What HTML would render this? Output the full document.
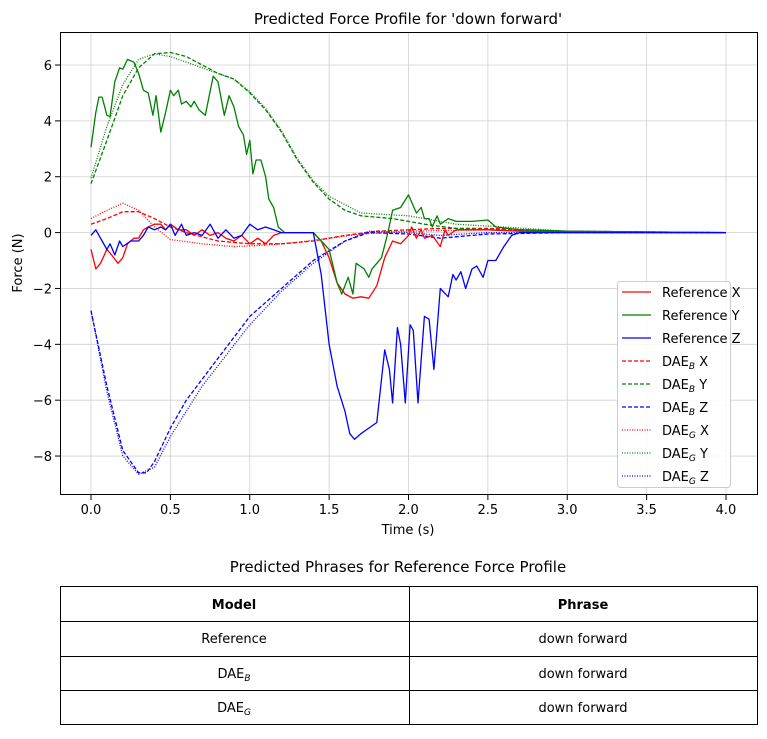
<!DOCTYPE html>
<html><head><meta charset="utf-8"><style>
body{margin:0;background:#fff;font-family:"DejaVu Sans","Liberation Sans",sans-serif;}
svg text{font-family:"DejaVu Sans","Liberation Sans",sans-serif;}
</style></head><body>
<svg id="chart" width="767" height="735" xmlns="http://www.w3.org/2000/svg">
<rect width="767" height="735" fill="#fff"/>
<g id="grid"></g>
<g id="series"></g>
<rect x="60.5" y="32.5" width="697" height="462" fill="none" stroke="#000" stroke-width="1"/>
<g id="ticks"></g>
<text x="408" y="24" font-size="15" text-anchor="middle">Predicted Force Profile for 'down forward'</text>
<text x="408" y="534" font-size="13" text-anchor="middle">Time (s)</text>
<text x="22" y="263" font-size="13" text-anchor="middle" transform="rotate(-90 22 263)">Force (N)</text>
<g id="legend"></g>
<text x="398" y="572" font-size="15" text-anchor="middle">Predicted Phrases for Reference Force Profile</text>
<g font-size="13" text-anchor="middle">
<rect x="60.5" y="586.5" width="697" height="138" fill="none" stroke="#000"/>
<line x1="60" y1="621.5" x2="757" y2="621.5" stroke="#000"/>
<line x1="60" y1="656.5" x2="757" y2="656.5" stroke="#000"/>
<line x1="60" y1="690.5" x2="757" y2="690.5" stroke="#000"/>
<line x1="409.5" y1="586" x2="409.5" y2="725" stroke="#000"/>
<text x="234" y="609" font-weight="bold">Model</text>
<text x="583" y="609" font-weight="bold">Phrase</text>
<text x="234" y="643">Reference</text>
<text x="583" y="643">down forward</text>
<text x="234" y="678">DAE<tspan font-style="italic" font-size="9" dy="3">B</tspan></text>
<text x="583" y="678">down forward</text>
<text x="234" y="712">DAE<tspan font-style="italic" font-size="9" dy="3">G</tspan></text>
<text x="583" y="712">down forward</text>
</g>
</svg>
<script>
const xTicks=[0,0.5,1,1.5,2,2.5,3,3.5,4];
const xTickLabels=["0.0","0.5","1.0","1.5","2.0","2.5","3.0","3.5","4.0"];
const yTicks=[-8,-6,-4,-2,0,2,4,6];
const yTickLabels=["−8","−6","−4","−2","0","2","4","6"];
const refXt=[0,0.03,0.06,0.1,0.13,0.17,0.2,0.23,0.27,0.3,0.33,0.36,0.4,0.44,0.47,0.5,0.55,0.6,0.65,0.7,0.75,0.8,0.85,0.9,0.95,1.0,1.05,1.1,1.15,1.2,1.4,1.45,1.5,1.55,1.6,1.65,1.7,1.75,1.8,1.85,1.9,1.95,2.0,2.02,2.05,2.08,2.1,2.15,2.2,2.23,2.25,2.3,2.5,2.7,4];
const refXv=[-0.6,-1.3,-1.1,-0.6,-0.8,-1.1,-0.9,-0.4,-0.2,-0.2,0.1,0.2,0.3,0.3,0.1,0.3,0.1,0.1,-0.1,0.1,-0.1,0,-0.2,-0.3,-0.1,-0.4,-0.2,-0.4,-0.1,0,0,-0.3,-0.9,-1.8,-2.2,-2.35,-2.3,-2.35,-1.9,-0.9,-0.3,-0.4,-0.1,0.2,-0.2,0.1,-0.2,-0.1,-0.5,0.1,-0.1,0.1,0.1,0.05,0];
const refYt=[0,0.03,0.05,0.07,0.1,0.12,0.15,0.18,0.2,0.23,0.27,0.3,0.33,0.36,0.39,0.41,0.44,0.47,0.5,0.52,0.55,0.57,0.6,0.63,0.65,0.68,0.72,0.77,0.8,0.84,0.87,0.9,0.93,0.96,0.98,1.0,1.02,1.04,1.07,1.1,1.12,1.15,1.18,1.22,1.4,1.45,1.5,1.55,1.58,1.62,1.65,1.67,1.72,1.75,1.77,1.8,1.83,1.87,1.9,1.95,2.0,2.05,2.08,2.1,2.13,2.15,2.18,2.2,2.25,2.3,2.4,2.5,2.55,2.7,3.0,4.0];
const refYv=[3.05,4.3,4.85,4.85,4.2,4.15,5.4,5.9,5.85,6.2,6.1,5.7,5.1,5.0,4.2,4.9,3.6,4.3,5.1,4.9,5.1,4.6,4.7,4.5,4.7,4.4,4.2,5.6,5.4,4.2,4.9,4.5,3.8,3.5,2.8,3.3,2.1,2.6,2.6,2.0,1.2,0.9,0.2,0,0,-0.3,-0.6,-1.8,-2.2,-1.6,-2.2,-1.1,-1.3,-1.6,-1.3,-1.1,-0.9,0,0.8,0.9,1.35,0.7,0.9,0.5,0.5,0.2,0.6,0.3,0.5,0.4,0.4,0.45,0.2,0.1,0.05,0];
const refZt=[0,0.03,0.07,0.1,0.12,0.15,0.18,0.2,0.25,0.3,0.33,0.36,0.4,0.44,0.47,0.5,0.53,0.57,0.6,0.65,0.7,0.75,0.8,0.85,0.9,0.95,1.0,1.05,1.1,1.15,1.2,1.4,1.45,1.5,1.55,1.6,1.63,1.66,1.7,1.75,1.8,1.85,1.88,1.9,1.93,1.95,1.98,2.01,2.03,2.06,2.1,2.13,2.16,2.2,2.25,2.28,2.3,2.33,2.36,2.4,2.43,2.47,2.5,2.55,2.6,2.65,2.7,4];
const refZv=[-0.1,0.1,-0.3,-0.6,-0.4,-0.8,-0.3,-0.5,-0.3,-0.3,-0.1,0.2,0.1,0.2,0.1,0.3,-0.1,0.3,-0.1,0,-0.1,0.3,-0.2,0.1,-0.2,-0.1,0.3,0.1,0.2,0.1,0,0,-1.5,-4.0,-5.5,-6.4,-7.2,-7.4,-7.2,-7.0,-6.8,-4.2,-4.9,-6.1,-3.4,-4.0,-6.1,-3.3,-3.5,-6.1,-3.0,-3.1,-4.9,-2.0,-2.3,-1.5,-1.7,-1.4,-2.0,-1.3,-1.2,-1.6,-1.0,-1.0,-0.5,-0.1,0,0];
const dbXt=[0,0.1,0.2,0.3,0.4,0.5,0.6,0.8,1.0,1.2,1.4,1.6,1.8,2.0,2.2,2.5,3,4];
const dbXv=[0.3,0.5,0.75,0.75,0.5,0.2,0,-0.3,-0.4,-0.4,-0.3,-0.1,0.05,0.1,0.15,0.15,0.05,0];
const dbYt=[0,0.1,0.2,0.3,0.4,0.5,0.6,0.7,0.8,0.9,1.0,1.1,1.2,1.3,1.4,1.5,1.6,1.7,1.9,2.1,2.3,2.5,3,4];
const dbYv=[1.75,3.3,4.9,5.9,6.4,6.45,6.3,6.0,5.7,5.5,5.0,4.4,3.6,2.6,1.8,1.2,0.8,0.6,0.5,0.3,0.15,0.1,0,0];
const dbZt=[0,0.1,0.2,0.3,0.35,0.4,0.5,0.6,0.8,1.0,1.2,1.4,1.6,1.75,2.0,2.2,2.5,3,4];
const dbZv=[-2.8,-5.5,-7.8,-8.6,-8.6,-8.2,-7.0,-6.0,-4.5,-3.0,-2.0,-1.0,-0.3,0,-0.05,-0.2,-0.05,0,0];
const dgXt=[0,0.1,0.2,0.3,0.4,0.5,0.7,0.9,1.1,1.3,1.5,1.7,2.0,2.5,3,4];
const dgXv=[0.5,0.8,1.05,0.8,0.2,-0.25,-0.4,-0.5,-0.45,-0.35,-0.2,-0.05,0.05,0.1,0.05,0];
const dgYt=[0,0.1,0.2,0.3,0.4,0.5,0.6,0.7,0.8,0.9,1.0,1.1,1.2,1.3,1.4,1.5,1.7,2.0,2.3,2.6,3,4];
const dgYv=[1.95,3.8,5.3,6.2,6.4,6.3,6.1,5.9,5.7,5.5,5.05,4.45,3.65,2.65,1.85,1.3,0.7,0.6,0.3,0.2,0.05,0];
const dgZt=[0,0.1,0.2,0.3,0.4,0.5,0.7,1.0,1.2,1.4,1.6,1.75,2.0,2.2,2.5,4];
const dgZv=[-2.8,-5.7,-8.0,-8.65,-8.4,-7.3,-5.5,-3.3,-2.1,-1.1,-0.3,0.05,0,-0.1,0,0];

const NS="http://www.w3.org/2000/svg";
const sx=t=>91+t*158.75;
const sy=v=>232.6-v*27.93;
const mk=(tag,attrs,parent)=>{const e=document.createElementNS(NS,tag);for(const k in attrs)e.setAttribute(k,attrs[k]);parent.appendChild(e);return e;};
const grid=document.getElementById('grid'),ticks=document.getElementById('ticks'),series=document.getElementById('series'),legend=document.getElementById('legend');
xTicks.forEach((t,i)=>{
  const gl=mk('line',{x1:sx(t),x2:sx(t),y1:33,y2:494,stroke:'#d0d0d0','stroke-width':0.8},grid);
  
  
  mk('line',{x1:sx(t),x2:sx(t),y1:495,y2:500,stroke:'#000'},ticks);
  const tx=mk('text',{x:sx(t),y:514,'font-size':13,'text-anchor':'middle'},ticks);
  tx.textContent=xTickLabels[i];
  
  
});
yTicks.forEach((v,i)=>{
  const gl=mk('line',{x1:61,x2:757,y1:sy(v),y2:sy(v),stroke:'#d0d0d0','stroke-width':0.8},grid);
  
  
  mk('line',{x1:55,x2:60,y1:sy(v),y2:sy(v),stroke:'#000'},ticks);
  const tx=mk('text',{x:52,y:sy(v)+5,'font-size':13,'text-anchor':'end'},ticks);
  tx.textContent=yTickLabels[i];
  
  
});
const defs=[
 [dbXt,dbXv,'red','4,2','dae-b-x-line'],[dbYt,dbYv,'green','4,2','dae-b-y-line'],[dbZt,dbZv,'blue','4,2','dae-b-z-line'],
 [dgXt,dgXv,'red','1,1.5','dae-g-x-line'],[dgYt,dgYv,'green','1,1.5','dae-g-y-line'],[dgZt,dgZv,'blue','1,1.5','dae-g-z-line'],
 [refXt,refXv,'red','','reference-x-line'],[refYt,refYv,'green','','reference-y-line'],[refZt,refZv,'blue','','reference-z-line']];
defs.forEach(d=>{
  const pts=d[0].map((t,i)=>sx(t).toFixed(1)+','+sy(d[1][i]).toFixed(1)).join(' ');
  const a={points:pts,fill:'none',stroke:d[2],'stroke-width':1.3,'stroke-linejoin':'round'};
  if(d[3])a['stroke-dasharray']=d[3];
  const p=mk('polyline',a,series);
  
  
});
mk('rect',{x:617.5,y:281.5,width:113,height:206,rx:3,fill:'#fff','fill-opacity':0.85,stroke:'#ccc'},legend);
const leg=[['red','','Reference X',''],['green','','Reference Y',''],['blue','','Reference Z',''],
 ['red','4,2','DAE','B',' X'],['green','4,2','DAE','B',' Y'],['blue','4,2','DAE','B',' Z'],
 ['red','1,1.5','DAE','G',' X'],['green','1,1.5','DAE','G',' Y'],['blue','1,1.5','DAE','G',' Z']];
leg.forEach((l,i)=>{
  const y=292+i*23;
  const a={x1:622,x2:651,y1:y,y2:y,stroke:l[0],'stroke-width':1.3};
  if(l[1])a['stroke-dasharray']=l[1];
  mk('line',a,legend);
  const t=mk('text',{x:662,y:y+5,'font-size':13},legend);
  
  
  if(l[3]){t.textContent=l[2];const s=mk('tspan',{'font-style':'italic','font-size':9,dy:3},t);s.textContent=l[3];const r=mk('tspan',{dy:-3},t);r.textContent=l[4];}
  else t.textContent=l[2];
});
</script>
</body></html>
